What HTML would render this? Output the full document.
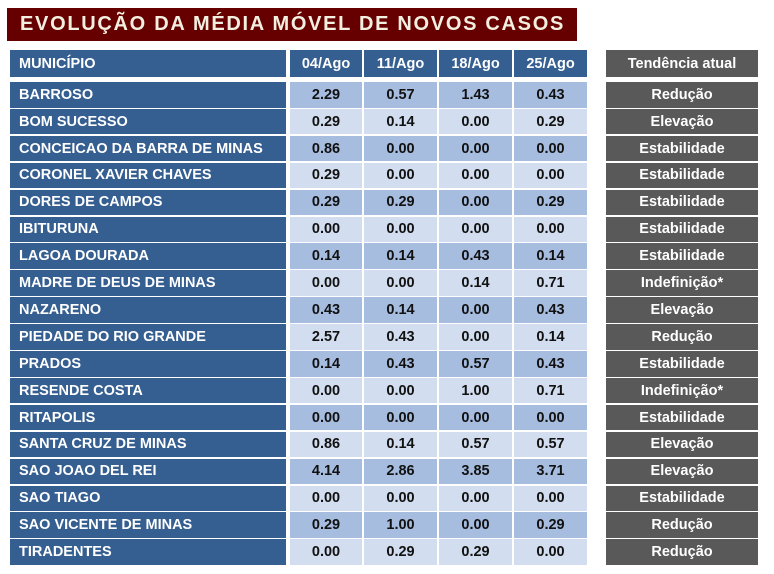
<!DOCTYPE html>
<html><head><meta charset="utf-8"><style>
body{margin:0;width:774px;height:574px;background:#fff;position:relative;overflow:hidden;font-family:"Liberation Sans",sans-serif;font-weight:bold}
.t{position:absolute;left:7px;top:8px;width:570px;height:33px;background:#660000;color:#f3efe0;font-size:20px;letter-spacing:1.7px;line-height:33px;padding-left:13px;box-sizing:border-box;white-space:nowrap;overflow:hidden}
.c{position:absolute;box-sizing:border-box;font-size:14.5px;display:flex;align-items:center;justify-content:center;white-space:nowrap}
.m{background:#365f91;color:#fff;justify-content:flex-start;padding-left:9px}
.h{background:#365f91;color:#fff}
.g{background:#595959;color:#fff}
.a{background:#a6bde0;color:#111}.b{background:#d2deef;color:#111}
</style></head><body>
<div class="t">EVOLUÇÃO DA MÉDIA MÓVEL DE NOVOS CASOS</div>
<div id="x"></div>
<script>
var rows=[["BARROSO","2.29","0.57","1.43","0.43","Redução"],["BOM SUCESSO","0.29","0.14","0.00","0.29","Elevação"],["CONCEICAO DA BARRA DE MINAS","0.86","0.00","0.00","0.00","Estabilidade"],["CORONEL XAVIER CHAVES","0.29","0.00","0.00","0.00","Estabilidade"],["DORES DE CAMPOS","0.29","0.29","0.00","0.29","Estabilidade"],["IBITURUNA","0.00","0.00","0.00","0.00","Estabilidade"],["LAGOA DOURADA","0.14","0.14","0.43","0.14","Estabilidade"],["MADRE DE DEUS DE MINAS","0.00","0.00","0.14","0.71","Indefinição*"],["NAZARENO","0.43","0.14","0.00","0.43","Elevação"],["PIEDADE DO RIO GRANDE","2.57","0.43","0.00","0.14","Redução"],["PRADOS","0.14","0.43","0.57","0.43","Estabilidade"],["RESENDE COSTA","0.00","0.00","1.00","0.71","Indefinição*"],["RITAPOLIS","0.00","0.00","0.00","0.00","Estabilidade"],["SANTA CRUZ DE MINAS","0.86","0.14","0.57","0.57","Elevação"],["SAO JOAO DEL REI","4.14","2.86","3.85","3.71","Elevação"],["SAO TIAGO","0.00","0.00","0.00","0.00","Estabilidade"],["SAO VICENTE DE MINAS","0.29","1.00","0.00","0.29","Redução"],["TIRADENTES","0.00","0.29","0.29","0.00","Redução"]];
var cx=[[290,72],[364,73],[439,73],[514,73]];
var h='';
function c(cls,x,y,w,ht,t){h+='<div class="c '+cls+'" style="left:'+x+'px;top:'+y+'px;width:'+w+'px;height:'+ht+'px">'+t+'</div>';}
c('m',10,50,276,27,'MUNICÍPIO');
var hd=["04/Ago","11/Ago","18/Ago","25/Ago"];
for(var i=0;i<4;i++)c('h',cx[i][0],50,cx[i][1],27,hd[i]);
c('g',606,50,152,27,'Tendência atual');
for(var i=0;i<rows.length;i++){var r=rows[i];var y=82+i*26.9;var hh=25.6;
c('m',10,y,276,hh,r[0]);
for(var k=0;k<4;k++)c(i%2?'b':'a',cx[k][0],y,cx[k][1],hh,r[k+1]);
c('g',606,y,152,hh,r[5]);}
document.getElementById('x').innerHTML=h;
</script>
</body></html>
